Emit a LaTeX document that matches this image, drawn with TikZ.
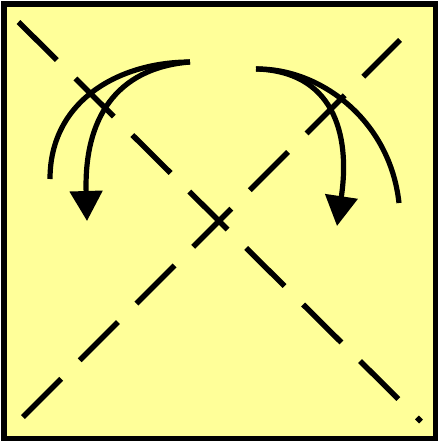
\documentclass[tikz,border=0pt]{standalone}
\usepackage{tikz}
\usetikzlibrary{arrows.meta}
\definecolor{foldpaper}{RGB}{255,255,153}
\definecolor{foldink}{RGB}{0,0,0}
\tikzset{
  sheet/.style={draw=foldink, fill=foldpaper, line width=5.5pt},
  crease/.style={draw=foldink, line width=5.5pt, dash pattern=on 54pt off 26.2pt},
  turn/.style={draw=foldink, line width=5.2pt},
  turnarr/.style={turn, -{Triangle[length=30pt,width=32pt]}}
}
\begin{document}
\begin{tikzpicture}[x=1pt,y=-1pt]
  \useasboundingbox (0,0) rectangle (438,442);
  \draw[sheet] (3.8,4.2) rectangle (435.8,438.5);
  % creases
  \coordinate (tl) at (18.5,22);
  \coordinate (br) at (421,421.5);
  \coordinate (bl) at (23,417);
  \coordinate (tr) at (400,40);
  \draw[crease] (tl) -- (br);
  \draw[crease] (bl) -- (tr);
  % left pair of turns
  \coordinate (lstart) at (190,62);
  \coordinate (lend) at (50,179);
  \coordinate (ltip) at (87,221);
  \draw[turn] (lstart) .. controls (120,62) and (50,100) .. (lend);
  \draw[turnarr] (lstart) .. controls (115,68) and (84,120) .. (ltip);
  % right pair of turns
  \coordinate (rstart) at (256,69);
  \coordinate (rend) at (399,203);
  \coordinate (rtip) at (337,226);
  \draw[turn] (rstart) .. controls (320,68) and (390,120) .. (rend);
  \draw[turnarr] (rstart) .. controls (332,71) and (351,132) .. (rtip);
\end{tikzpicture}
\end{document}
